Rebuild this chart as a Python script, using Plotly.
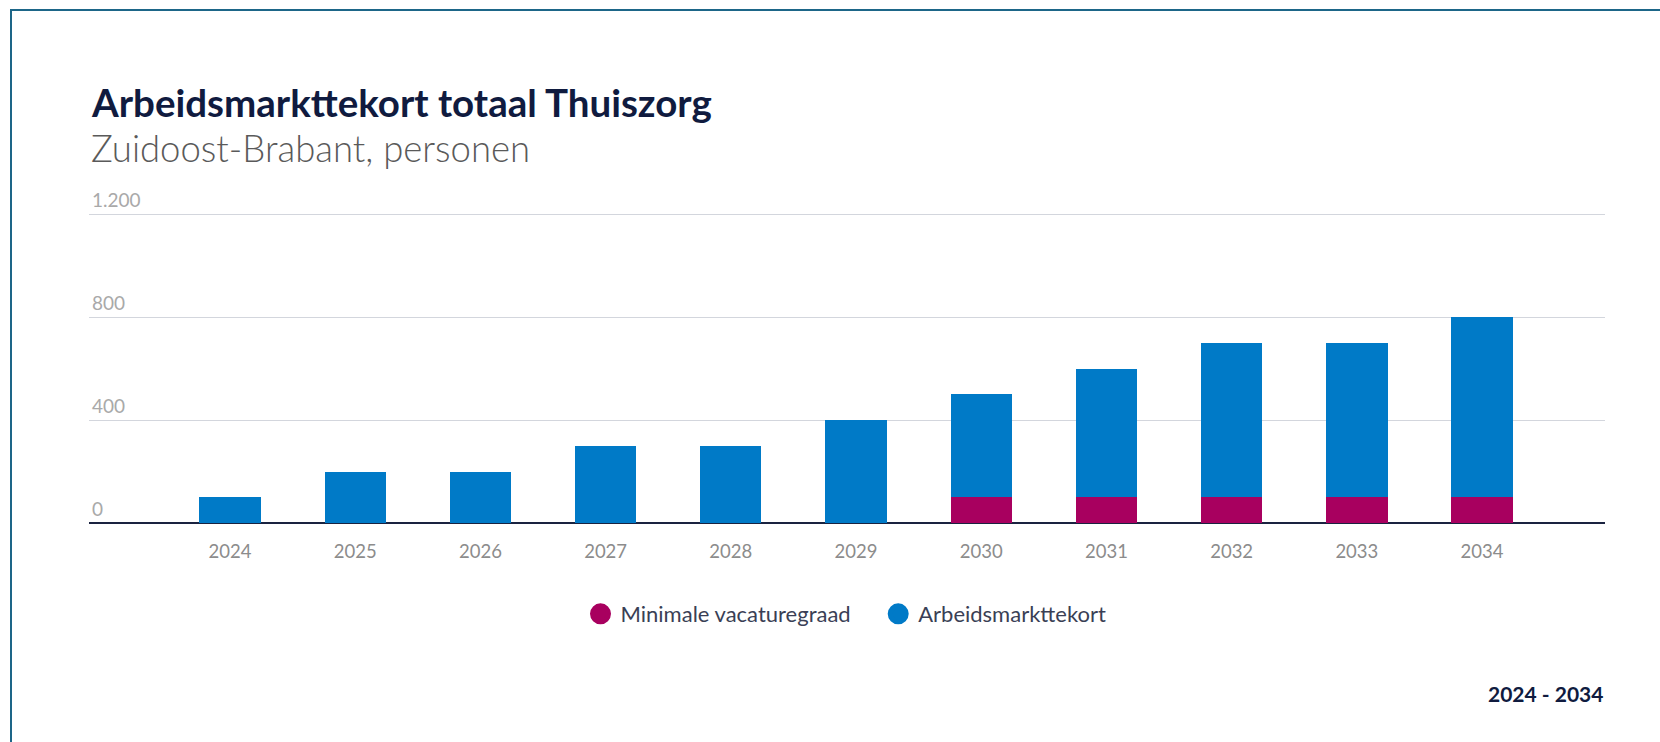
import plotly.graph_objects as go

years = ["2024", "2025", "2026", "2027", "2028", "2029", "2030", "2031", "2032", "2033", "2034"]
minimale_vacaturegraad = [0, 0, 0, 0, 0, 0, 100, 100, 100, 100, 100]
arbeidsmarkttekort = [100, 200, 200, 300, 300, 400, 400, 500, 600, 600, 700]
y_ticks = [0, 400, 800, 1200]

series_names = ["Minimale vacaturegraad", "Arbeidsmarkttekort"]
legend_pad = ["\u00a0\u00a0\u00a0\u00a0", ""]
colors = ["#A8005F", "#007AC7"]

title_text = "Arbeidsmarkttekort totaal Thuiszorg"
subtitle_text = "Zuidoost-Brabant, personen"
period_text = "2024 - 2034"

W, H = 1660, 742
FONT = "Lato"


def fx(px):
    return px / W


def fy(py):
    return 1 - py / H


fig = go.Figure()
for name, vals, col in zip(series_names, [minimale_vacaturegraad, arbeidsmarkttekort], colors):
    fig.add_trace(go.Bar(x=years, y=vals, name=name, marker=dict(color=col, line=dict(width=0)),
                         width=0.49, showlegend=False))
for name, pad, col in zip(series_names, legend_pad, colors):
    fig.add_trace(go.Scatter(x=[None], y=[None], mode="markers", name=name + pad,
                             marker=dict(symbol="circle", size=16, color=col,
                                         line=dict(color=col, width=5))))

# y scale: 0 at 523px, 1200 at 214px
px_per_unit = (523 - 214) / 1200.0
y_top = 1206
fig.update_layout(
    width=W, height=H,
    margin=dict(l=0, r=0, t=0, b=0, autoexpand=False),
    paper_bgcolor="white", plot_bgcolor="white",
    barmode="stack",
    separators=",.",
    font=dict(family=FONT, color="#333333"),
    xaxis=dict(domain=[fx(89), fx(1605)], range=[-1.126, 10.982], type="category",
               showgrid=False, showline=False, zeroline=False, ticks="", automargin=False,
               tickfont=dict(size=18.5, color="#8C8C8C"), ticklabelstandoff=15, fixedrange=True),
    yaxis=dict(domain=[fy(523), fy(523 - y_top * px_per_unit)], range=[0, y_top], tickvals=y_ticks,
               tickformat=",d", showgrid=True, gridcolor="#D3D6DD", gridwidth=1,
               zeroline=True, zerolinecolor="#1A2340", zerolinewidth=2,
               showline=False, ticks="", automargin=False,
               ticklabelposition="inside top", ticklabeloverflow="allow",
               tickfont=dict(size=19, color="#A9A9A9"), fixedrange=True),
    legend=dict(orientation="h", x=fx(846), xanchor="center", y=fy(614), yanchor="middle",
                font=dict(size=22, color="#3A3F55"), traceorder="normal",
                bgcolor="rgba(0,0,0,0)"),
    showlegend=True,
)

fig.add_annotation(text=f"<b>{title_text}</b>", xref="paper", yref="paper",
                   x=fx(89), y=fy(102), xanchor="left", yanchor="middle", showarrow=False,
                   font=dict(size=38.5, color="#101B3F", family=FONT))
fig.add_annotation(text=subtitle_text, xref="paper", yref="paper",
                   x=fx(89), y=fy(148), xanchor="left", yanchor="middle", showarrow=False,
                   font=dict(size=36.5, color="#5A5A5A", family=FONT, weight=300))
fig.add_annotation(text=f"<b>{period_text}</b>", xref="paper", yref="paper",
                   x=fx(1605), y=fy(693), xanchor="right", yanchor="middle", showarrow=False,
                   font=dict(size=21, color="#101B3F", family=FONT))

# frame lines (top and left)
fig.add_shape(type="line", xref="paper", yref="paper", x0=fx(10), x1=1, y0=fy(10), y1=fy(10),
              line=dict(color="#1D6688", width=2))
fig.add_shape(type="line", xref="paper", yref="paper", x0=fx(11), x1=fx(11), y0=fy(10), y1=0,
              line=dict(color="#1D6688", width=2))

fig.write_html("out.html", config={"displayModeBar": False},
               post_script="document.body.style.margin='0';")
